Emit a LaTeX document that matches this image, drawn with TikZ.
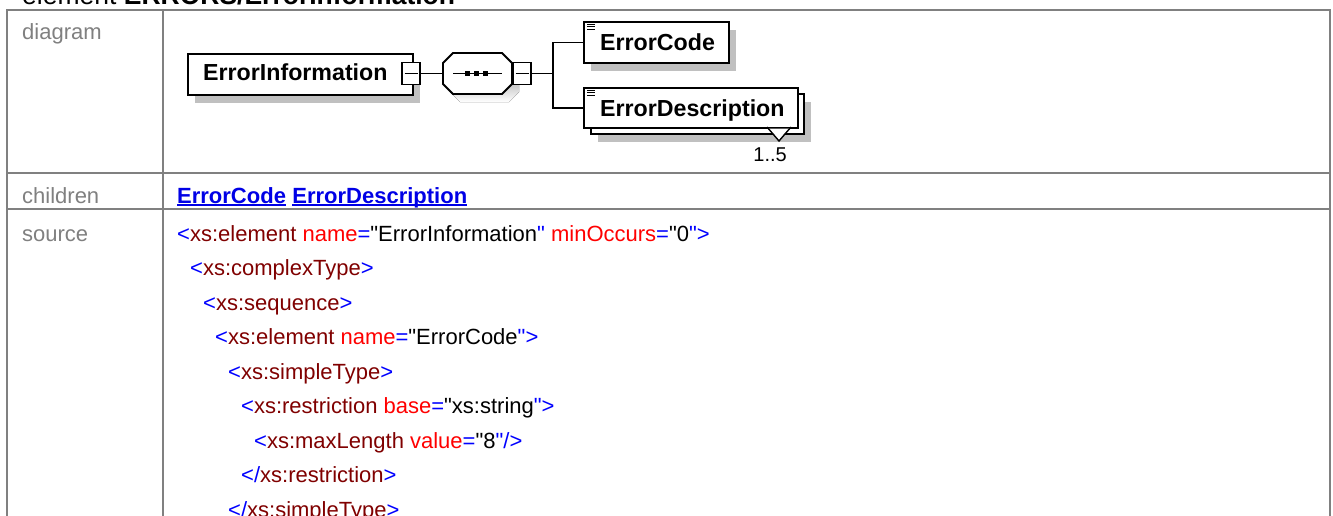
\documentclass[tikz,border=0pt]{standalone}
\usepackage{fontspec}
\setmainfont{Liberation Sans}[Ligatures=TeXOff]
\usetikzlibrary{positioning,shadows}
\definecolor{rule}{HTML}{808080}
\definecolor{shade}{HTML}{C0C0C0}
\definecolor{tagblue}{HTML}{0000FF}
\definecolor{elname}{HTML}{800000}
\definecolor{attred}{HTML}{FF0000}
\definecolor{linkblue}{HTML}{0000E6}
\newcommand{\pxfont}[1]{\fontsize{#1}{#1}\selectfont}
\newcommand{\xtg}[1]{\textcolor{tagblue}{#1}}
\newcommand{\xel}[1]{\textcolor{elname}{#1}}
\newcommand{\xat}[1]{\textcolor{attred}{#1}}
\newcommand{\xlink}[1]{\setbox0=\hbox{#1}\rlap{\rule[-2.5pt]{\wd0}{1.6pt}}\box0}

\begin{document}
\begin{tikzpicture}[x=1pt,y=-1pt,font=\pxfont{22},
  grid/.style={draw=rule,line width=2pt},
  rowlbl/.style={anchor=base west,inner sep=0pt,text=rule},
  src/.style={anchor=base west,inner sep=0pt},
  lnk/.style={inner sep=0pt,text=linkblue,font=\pxfont{22}\bfseries},
  wire/.style={line width=1.8pt},
  elbox/.style={draw,fill=white,line width=1.8pt,anchor=north west,inner sep=0pt,minimum height=41pt},
  shadowed/.style={general shadow={fill=shade,shadow xshift=7pt,shadow yshift=-8pt}},
  eltxt/.style={anchor=base west,inner sep=0pt,font=\pxfont{23.2}\bfseries},
  minus/.style={draw,fill=white,line width=1.6pt,minimum width=18pt,minimum height=22pt,inner sep=0pt,
    path picture={\draw[line width=1.4pt] ([xshift=2.5pt]path picture bounding box.west) -- ([xshift=-2.5pt]path picture bounding box.east);}}]
\path[use as bounding box,fill=white] (0,0) rectangle (1333,515);
\clip (0,0) rectangle (1333,515);

\node[anchor=base west,inner sep=0pt,font=\pxfont{26.5}] (ttl) at (22,4) {element \textbf{ERRORS/ErrorInformation}};

\draw[grid] (7,530) -- (7,10) -- (1330,10) -- (1330,530);
\draw[grid] (7,173) -- (1330,173);
\draw[grid] (7,209) -- (1330,209);
\draw[grid] (163,10) -- (163,530);

\node[rowlbl] (rdia) at (22,39) {diagram};
\node[rowlbl] (rchi) at (22,203) {children};
\node[rowlbl] (rsrc) at (22,241) {source};

\node[elbox,shadowed,minimum width=225pt] (ei) at (187,53) {};
\node[eltxt] (eit) at ([xshift=16pt,yshift=-27pt]ei.north west) {ErrorInformation};
\node[minus] (m1) at (411,73.5) {};

\fill[shade,xshift=7pt,yshift=-8pt] (453,53) -- (502,53) -- (512,63) -- (512,84) -- (502,94) -- (453,94) -- (443,84) -- (443,63) -- cycle;
\draw[wire,fill=white] (453,53) -- (502,53) -- (512,63) -- (512,84) -- (502,94) -- (453,94) -- (443,84) -- (443,63) -- cycle;
\node[inner sep=0pt,minimum width=69pt,minimum height=41pt] (seq) at (477.5,73.5) {};
\draw[wire] (453,73.5) -- (502,73.5);
\foreach \x in {467,476,485}
  \fill (\x-2.5,71) rectangle (\x+2.5,76);
\node[minus] (m2) at (522,73.5) {};
\coordinate (br) at (553,73.5);

\node[elbox,shadowed,minimum width=145pt] (ec) at (583,21) {};
\node[elbox,shadowed,minimum width=213pt,minimum height=40pt] (edb) at (590,93) {};
\node[elbox,minimum width=214pt,minimum height=40pt] (ed) at (583,87) {};
\node[eltxt] (ect) at ([xshift=17pt,yshift=-29pt]ec.north west) {ErrorCode};
\node[eltxt] (edt) at ([xshift=17pt,yshift=-29pt]ed.north west) {ErrorDescription};
\foreach \b in {ec,ed}
  \foreach \d in {3,5.5,8}
    \draw[line width=1pt] ([xshift=4pt,yshift=-\d pt]\b.north west) -- ++(8,0);
\fill[white] (769,128.5) -- (779,140) -- (789,128.5) -- cycle;
\draw[line width=1.4pt] (767,127) -- (779,141) -- (791,127);
\node[anchor=base east,inner sep=0pt,font=\pxfont{20}] (occ) at (787,161) {1..5};

\draw[wire] (m1.east) -- (seq.west);
\draw[wire] (m2.east) -- (br);
\draw[wire] (ec.west) -| (br) |- (ed.west);

\node[lnk,anchor=base west] (lec) at (177,203) {\xlink{ErrorCode}};
\node[lnk,base right=6pt of lec] (led) {\xlink{ErrorDescription}};

\node[src] (s1) at (177,241) {\xtg{<}\xel{xs:element} \xat{name}\xtg{=}"ErrorInformation\xtg{"} \xat{minOccurs}\xtg{=}"0\xtg{">}};
\node[src] (s2) at (190,275.5) {\xtg{<}\xel{xs:complexType}\xtg{>}};
\node[src] (s3) at (203,310) {\xtg{<}\xel{xs:sequence}\xtg{>}};
\node[src] (s4) at (215,344.5) {\xtg{<}\xel{xs:element} \xat{name}\xtg{=}"ErrorCode\xtg{">}};
\node[src] (s5) at (228,379) {\xtg{<}\xel{xs:simpleType}\xtg{>}};
\node[src] (s6) at (241,413.5) {\xtg{<}\xel{xs:restriction} \xat{base}\xtg{=}"xs:string\xtg{">}};
\node[src] (s7) at (254,448) {\xtg{<}\xel{xs:maxLength} \xat{value}\xtg{=}"8\xtg{"/>}};
\node[src] (s8) at (241,482.5) {\xtg{</}\xel{xs:restriction}\xtg{>}};
\node[src] (s9) at (228,517) {\xtg{</}\xel{xs:simpleType}\xtg{>}};
\end{tikzpicture}
\end{document}
